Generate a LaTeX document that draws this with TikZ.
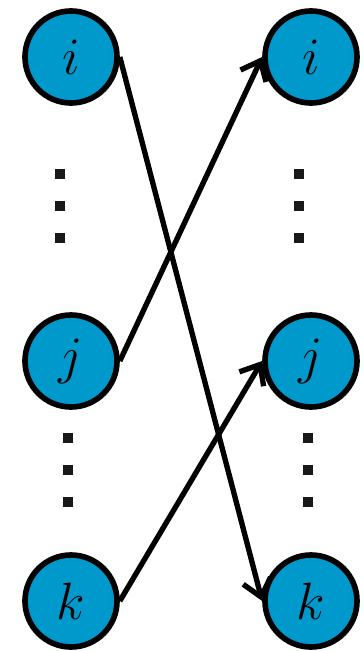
\documentclass[tikz,border=0pt]{standalone}
\usepackage{amsmath}
\usepackage{graphicx}
\usepackage{xcolor}
\usetikzlibrary{arrows.meta}

\definecolor{ballblue}{HTML}{0099CC}
\newcommand{\ballmath}[1]{\scalebox{1.5}{$#1$}}

\begin{document}
\begin{tikzpicture}[
    x=0.025cm, y=-0.025cm,
    ball/.style={circle,draw,fill=ballblue,line width=4pt,minimum size=2.3cm,
                 inner sep=0pt,font=\Huge},
    sqdot/.style={rectangle,fill=black!90,minimum size=0.25cm,inner sep=0pt},
    arr/.style={-{Straight Barb[angle'=80,length=4.2mm]},line width=3.8pt}
  ]
    \useasboundingbox (0,0) rectangle (363,651);
    % left column
    \node[ball] (iL) at (71,57) {\ballmath{i}};
    \node[ball] (jL) at (71,361) {\ballmath{j}};
    \node[ball] (kL) at (71,601) {\ballmath{k}};
    % right column
    \node[ball] (iR) at (311,57) {\ballmath{i}};
    \node[ball] (jR) at (311,361) {\ballmath{j}};
    \node[ball] (kR) at (311,601) {\ballmath{k}};
    % dots
    \foreach \y in {174,206,238} {
      \node[sqdot] at (60,\y) {};
      \node[sqdot] at (299,\y) {};
    }
    \foreach \y in {438,470,502} {
      \node[sqdot] at (68,\y) {};
      \node[sqdot] at (308,\y) {};
    }
    \draw[arr] (iL.east) -- (kR.west);
    \draw[arr] (jL.east) -- (iR.west);
    \draw[arr] (kL.east) -- (jR.west);
  \end{tikzpicture}
\end{document}
